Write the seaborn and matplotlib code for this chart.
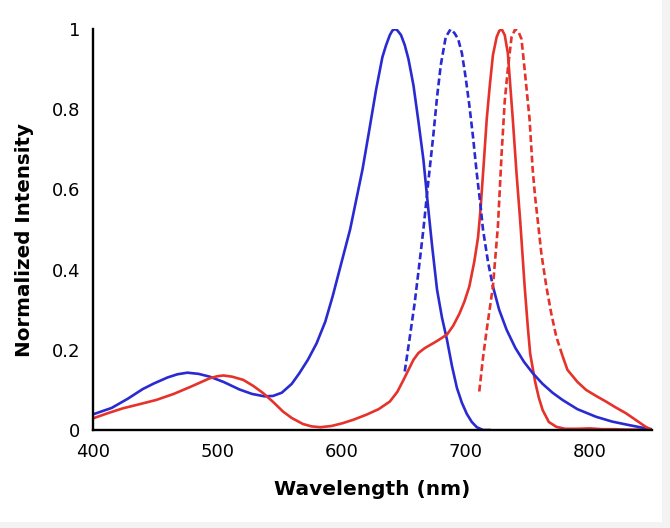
import matplotlib
matplotlib.use("Agg")
import matplotlib.pyplot as plt
import pandas as pd
import seaborn as sns
from matplotlib.patches import Rectangle

# ---------------------------
# DATA
# ---------------------------

# blue dye, absorption (solid)
blue_abs_nm = [400, 415, 428, 440, 449, 460, 468, 476, 485, 494, 505, 518, 528, 538,
               545, 552, 560, 566, 573, 580, 587, 593, 600, 607, 611, 617, 622, 628,
               633, 636, 639, 641, 643, 645, 648, 651, 654, 658, 662, 666, 670, 673,
               677, 681, 685, 689, 693, 697, 701, 705, 709, 714, 720]
blue_abs_val = [0.039, 0.055, 0.078, 0.102, 0.116, 0.131, 0.139, 0.143, 0.140, 0.133,
                0.120, 0.101, 0.090, 0.084, 0.085, 0.093, 0.115, 0.141, 0.175, 0.216,
                0.27, 0.334, 0.417, 0.50, 0.56, 0.65, 0.74, 0.85, 0.93, 0.96, 0.985,
                0.996, 1.0, 0.997, 0.985, 0.96, 0.925, 0.86, 0.77, 0.675, 0.55, 0.46,
                0.35, 0.28, 0.225, 0.16, 0.105, 0.068, 0.04, 0.02, 0.007, 0.0, 0.0]

# blue dye, emission (dashed)
blue_em_nm = [651, 655, 659, 663, 666, 670, 674, 677, 680, 684, 688, 691, 694, 697,
              700, 703, 706, 709, 712, 714, 718, 722, 727, 733, 740, 747, 754, 762,
              770, 778, 790, 805, 818, 832, 842, 850]
blue_em_val = [0.146, 0.23, 0.317, 0.42, 0.5, 0.62, 0.735, 0.83, 0.91, 0.98, 1.0, 0.99,
               0.975, 0.94, 0.88, 0.81, 0.73, 0.64, 0.56, 0.5, 0.42, 0.358, 0.30, 0.25,
               0.205, 0.17, 0.142, 0.115, 0.093, 0.075, 0.052, 0.033, 0.021, 0.012,
               0.006, 0.002]

# red dye, absorption (solid)
red_abs_nm = [400, 412, 424, 437, 451, 465, 478, 486, 494, 500, 505, 512, 521, 529, 537,
              545, 553, 560, 569, 576, 583, 592, 601, 610, 620, 630, 639, 645, 650, 654,
              658, 662, 667, 672, 677, 681, 685, 690, 695, 699, 703, 707, 710, 712,
              714.5, 717, 719.5, 722, 725, 727, 729, 731.5, 734, 738, 741, 744, 747.5,
              750, 752, 756, 759, 762, 767, 773, 780, 790, 800, 810, 820, 830, 840, 850]
red_abs_val = [0.029, 0.042, 0.054, 0.064, 0.075, 0.09, 0.107, 0.118, 0.129, 0.134,
               0.136, 0.133, 0.125, 0.11, 0.092, 0.07, 0.046, 0.03, 0.015, 0.009, 0.007,
               0.01, 0.017, 0.026, 0.038, 0.052, 0.071, 0.095, 0.125, 0.15, 0.175, 0.192,
               0.204, 0.213, 0.222, 0.23, 0.238, 0.26, 0.29, 0.32, 0.358, 0.42, 0.48,
               0.55, 0.66, 0.775, 0.86, 0.935, 0.98, 0.995, 1.0, 0.985, 0.94, 0.775,
               0.64, 0.52, 0.36, 0.26, 0.19, 0.12, 0.08, 0.05, 0.02, 0.008, 0.003,
               0.003, 0.004, 0.002, 0.002, 0.001, 0.001, 0.0]

# red dye, emission (dashed)
red_em_nm = [711, 714, 717, 722, 726, 729, 731.5, 734, 737, 740, 743, 745, 747.5, 751.5,
             754, 756, 758, 761, 765, 769, 773, 778, 782, 790, 797, 805, 813, 821, 829,
             837, 845, 850]
red_em_val = [0.096, 0.18, 0.25, 0.358, 0.508, 0.69, 0.82, 0.90, 0.98, 1.0, 0.99, 0.975,
              0.90, 0.775, 0.65, 0.58, 0.525, 0.44, 0.358, 0.29, 0.233, 0.185, 0.15,
              0.12, 0.10, 0.085, 0.071, 0.056, 0.042, 0.025, 0.008, 0.0]

x_ticks = [400, 500, 600, 700, 800]
y_ticks = [0, 0.2, 0.4, 0.6, 0.8, 1.0]
y_tick_labels = ["0", "0.2", "0.4", "0.6", "0.8", "1"]

# beyond these wavelengths the emission tails look solid in the original
blue_dash_end = 722
red_dash_end = 778

BLUE = "#2a2ad2"
RED = "#e5322a"

# ---------------------------
# PLOT
# ---------------------------
sns.set_theme(style="white")
plt.rcParams["font.family"] = ["DejaVu Sans"]

fig = plt.figure(figsize=(6.7, 5.28), dpi=100, facecolor="#f3f3f3")
fig.patches.append(Rectangle((0, 0.011), 0.988, 0.989, transform=fig.transFigure,
                             facecolor="white", edgecolor="none", zorder=-10))
ax = fig.add_axes([0.1388, 0.1856, 0.8342, 0.7594])
ax.set_facecolor("white")

lw = 1.9
dash = (0, (2.6, 1.3))

sns.lineplot(x=blue_abs_nm, y=blue_abs_val, ax=ax, color=BLUE, linewidth=lw,
             estimator=None, errorbar=None, sort=False)
sns.lineplot(x=red_abs_nm, y=red_abs_val, ax=ax, color=RED, linewidth=lw,
             estimator=None, errorbar=None, sort=False)

for nm, val, cut, col in [(blue_em_nm, blue_em_val, blue_dash_end, BLUE),
                          (red_em_nm, red_em_val, red_dash_end, RED)]:
    df = pd.DataFrame({"nm": nm, "val": val})
    steep = df[df["nm"] <= cut]
    tail = df[df["nm"] >= cut]
    sns.lineplot(data=steep, x="nm", y="val", ax=ax, color=col, linewidth=lw,
                 linestyle=dash, estimator=None, errorbar=None, sort=False)
    sns.lineplot(data=tail, x="nm", y="val", ax=ax, color=col, linewidth=lw,
                 estimator=None, errorbar=None, sort=False)

ax.set_xlim(400, 850)
ax.set_ylim(0, 1)
ax.set_xticks(x_ticks)
ax.set_yticks(y_ticks, y_tick_labels)

sns.despine(ax=ax)
for side in ["left", "bottom"]:
    ax.spines[side].set_color("black")
    ax.spines[side].set_linewidth(1.7)
ax.tick_params(axis="both", direction="out", length=4, width=1.7, color="black",
               labelsize=13, labelcolor="black", pad=5)

ax.set_xlabel("Wavelength (nm)", fontsize=14.5, fontweight="bold", color="black")
ax.set_ylabel("Normalized Intensity", fontsize=14.3, fontweight="bold", color="black")
ax.yaxis.set_label_coords(-0.105, 0.474)
ax.xaxis.set_label_coords(0.5, -0.125)

fig.savefig("out.png", dpi=100, facecolor=fig.get_facecolor())
